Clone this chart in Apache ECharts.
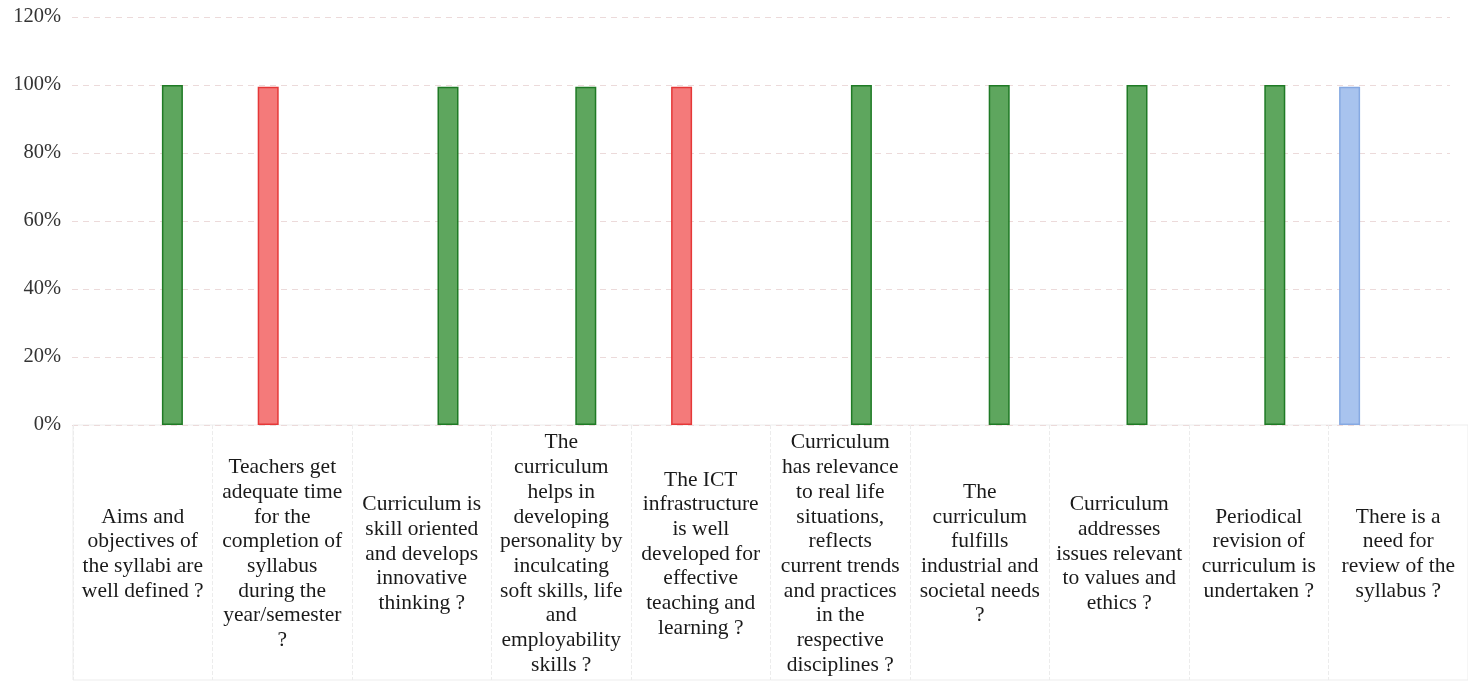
<!DOCTYPE html>
<html>
<head>
<meta charset="utf-8">
<script src="https://cdn.jsdelivr.net/npm/echarts@6/dist/echarts.min.js"></script>
<style>
html,body{margin:0;padding:0;background:#ffffff;}
#chart{width:1468px;height:683px;}
</style>
</head>
<body>
<div id="chart"></div>
<script>
// Categories (question texts, line breaks as in the reference)
const categories = [
  "Aims and\nobjectives of\nthe syllabi are\nwell defined ?",
  "Teachers get\nadequate time\nfor the\ncompletion of\nsyllabus\nduring the\nyear/semester\n?",
  "Curriculum is\nskill oriented\nand develops\ninnovative\nthinking ?",
  "The\ncurriculum\nhelps in\ndeveloping\npersonality by\ninculcating\nsoft skills, life\nand\nemployability\nskills ?",
  "The ICT\ninfrastructure\nis well\ndeveloped for\neffective\nteaching and\nlearning ?",
  "Curriculum\nhas relevance\nto real life\nsituations,\nreflects\ncurrent trends\nand practices\nin the\nrespective\ndisciplines ?",
  "The\ncurriculum\nfulfills\nindustrial and\nsocietal needs\n?",
  "Curriculum\naddresses\nissues relevant\nto values and\nethics ?",
  "Periodical\nrevision of\ncurriculum is\nundertaken ?",
  "There is a\nneed for\nreview of the\nsyllabus ?"
];

// Series values (percent); null = no bar
const blueValues  = [null, null, null, null, null, null, null, null, null, 99.5];
const redValues   = [null, 99.5, null, null, 99.5, null, null, null, null, null];
const emptyValues = [null, null, null, null, null, null, null, null, null, null];
const greenValues = [100, null, 99.5, 99.5, null, 100, 100, 100, 100, null];

// Y tick settings
const yMin = 0, yMax = 120, yStep = 20;

const serif = "'Liberation Serif', 'DejaVu Serif', serif";

const chart = echarts.init(document.getElementById('chart'));
chart.setOption({
  animation: false,
  backgroundColor: '#ffffff',
  grid: [
    { left: 72, right: 18, top: 17, bottom: 258 },
    { left: 73, right: 0, top: 425, bottom: 3, show: true, borderColor: '#ededed', borderWidth: 1, backgroundColor: 'transparent' }
  ],
  xAxis: [
    {
      gridIndex: 0, type: 'category', data: categories,
      axisLine: { show: false }, axisTick: { show: false }, axisLabel: { show: false },
      splitLine: { show: false }
    },
    {
      gridIndex: 1, type: 'category', data: categories, position: 'top',
      axisLine: { show: false }, axisTick: { show: false },
      splitLine: { show: true, lineStyle: { color: '#ececec', width: 1, type: 'dashed' } },
      axisLabel: {
        inside: true, interval: 0, margin: 129, verticalAlign: 'middle', align: 'center',
        fontFamily: serif, fontSize: 21.5, lineHeight: 24.7, color: '#1a1a1a'
      }
    }
  ],
  yAxis: [
    {
      gridIndex: 0, type: 'value', min: yMin, max: yMax, interval: yStep,
      axisLine: { show: false }, axisTick: { show: false },
      axisLabel: { formatter: '{value}%', fontFamily: serif, fontSize: 20.5, color: '#333', margin: 11 },
      splitLine: { show: true, lineStyle: { color: '#ecdada', width: 1, type: [6, 5] } }
    },
    { gridIndex: 1, type: 'value', show: false, min: 0, max: 1 }
  ],
  series: [
    {
      name: 'Series 1', type: 'bar', xAxisIndex: 0, yAxisIndex: 0, data: blueValues,
      barWidth: 21, barGap: '0%',
      itemStyle: { color: '#a8c3ee', borderColor: '#86a9e2', borderWidth: 1.5 }
    },
    {
      name: 'Series 2', type: 'bar', xAxisIndex: 0, yAxisIndex: 0, data: redValues,
      barWidth: 21, barGap: '0%',
      itemStyle: { color: '#f47a7a', borderColor: '#e53838', borderWidth: 1.5 }
    },
    {
      name: 'Series 3', type: 'bar', xAxisIndex: 0, yAxisIndex: 0, data: emptyValues,
      barWidth: 21, barGap: '0%',
      itemStyle: { color: '#cccccc' }
    },
    {
      name: 'Series 4', type: 'bar', xAxisIndex: 0, yAxisIndex: 0, data: greenValues,
      barWidth: 21, barGap: '0%',
      itemStyle: { color: '#5ea65e', borderColor: '#1f7a25', borderWidth: 1.5 }
    }
  ]
});
</script>
</body>
</html>
